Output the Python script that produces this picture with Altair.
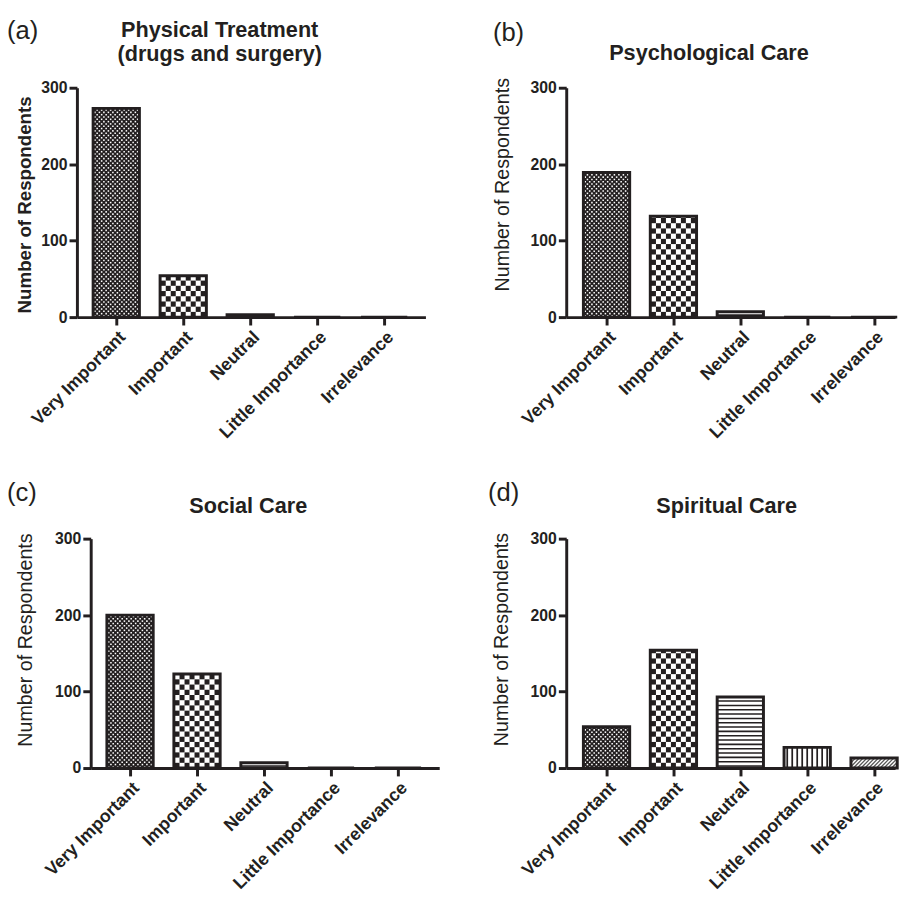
import math
import json
import altair as alt
import pandas as pd

# ---------------- data ----------------
categories = ["Very Important", "Important", "Neutral", "Little Importance", "Irrelevance"]
patterns = ["dots", "checker", "hlines", "vlines", "diag"]
physical = [273, 54, 3, 0, 0]
psychological = [189, 132, 7, 0, 0]
social = [200, 123, 7, 0, 0]
spiritual = [54, 154, 93, 27, 13]
y_ticks = [0, 100, 200, 300]
panel_titles = {
    "a": ["Physical Treatment", "(drugs and surgery)"],
    "b": ["Psychological Care"],
    "c": ["Social Care"],
    "d": ["Spiritual Care"],
}
y_title = "Number of Respondents"

# ---------------- style ----------------
FONT = "Liberation Sans"
INK = "#231f20"
PXX = 70.0            # px per category step
PLOT_H = 233
PXY = PLOT_H / 300.0  # px per respondent
HALF_PX = 23.5        # half bar width in px
BAR_PX = 2 * HALF_PX


def pattern_cells(i, v, pat):
    """Fill texture for bar i (value v), in data units."""
    rects, rules = [], []
    if v <= 0:
        return rects, rules
    W = BAR_PX
    H = v * PXY

    def add(px0, px1, py0, py1, col):
        rects.append(dict(x=i + (px0 - HALF_PX) / PXX, x2=i + (px1 - HALF_PX) / PXX,
                          y=py0 / PXY, y2=py1 / PXY, fill=col))

    if pat == "dots":
        add(0, W, 0, H, INK)
        cs = 2.35
        n = int(round(W / cs))
        cw = W / n
        s = 1.6
        nr = int(math.ceil(H / cs))
        for r in range(nr):
            for c in range(n):
                if (r + c) % 2 == 0:
                    cx = (c + 0.5) * cw
                    cy = (r + 0.5) * cs
                    y0 = cy - s / 2
                    y1 = min(cy + s / 2, H)
                    if y1 > y0:
                        add(cx - s / 2, cx + s / 2, y0, y1, "white")
    elif pat == "checker":
        n = 9
        cw = W / n
        ch = 5.3
        nr = int(math.ceil(H / ch))
        for r in range(nr):
            for c in range(n):
                if (r + c) % 2 == 0:
                    y0 = r * ch
                    y1 = min((r + 1) * ch, H)
                    if y1 > y0:
                        add(c * cw, (c + 1) * cw, y0, y1, INK)
    elif pat == "hlines":
        P = 4.4
        t = 1.6
        r = 0
        while True:
            y0 = 1.2 + r * P
            y1 = y0 + t
            if y1 > H:
                break
            add(0, W, y0, y1, INK)
            r += 1
    elif pat == "vlines":
        n = 9
        cw = W / n
        t = 1.8
        for c in range(n):
            cx = (c + 0.5) * cw
            add(cx - t / 2, cx + t / 2, 0, H, INK)
    elif pat == "diag":
        P = 4.0
        x0 = -H
        while x0 < W:
            sx = max(x0, 0.0)
            ex = min(x0 + H, W)
            if ex > sx:
                rules.append(dict(x=i + (sx - HALF_PX) / PXX, x2=i + (ex - HALF_PX) / PXX,
                                  y=(sx - x0) / PXY, y2=(ex - x0) / PXY))
            x0 += P
    return rects, rules


label_expr = json.dumps(categories) + "[datum.value]"


def text_layer(txt, x, y, size, weight="normal", align="left", opacity=1.0):
    return alt.Chart(pd.DataFrame({"t": [txt]})).mark_text(
        font=FONT, fontSize=size, fontWeight=weight, color=INK, align=align,
        baseline="alphabetic", opacity=opacity
    ).encode(text="t:N", x=alt.value(x), y=alt.value(y))


def make_panel(values, key, letter_pos, title_x, title_ys, ax_bold, ax_fs, atx, aty, dom, width,
               anchors):
    df = pd.DataFrame({"idx": list(range(len(categories))), "cat": categories, "value": values})
    rects, rules = [], []
    for i, (v, p) in enumerate(zip(values, patterns)):
        r1, r2 = pattern_cells(i, v, p)
        rects += r1
        rules += r2

    xs = alt.Scale(domain=list(dom), nice=False, zero=False)
    ys = alt.Scale(domain=[0, 300], nice=False)
    xa = alt.Axis(values=[0, 1, 2, 3, 4], labelExpr=label_expr, title=None, labelAngle=-45,
                  labelAlign="right", labelBaseline="top", labelFont=FONT, labelFontSize=18,
                  labelFontWeight="bold", labelColor=INK, labelPadding=3, labelOverlap=False,
                  labelFlush=False, tickSize=8, tickWidth=3, tickColor=INK, domainColor=INK,
                  domainWidth=3, grid=False)
    ya = alt.Axis(values=y_ticks, title=y_title, titleX=atx, titleY=aty, titleAngle=-90,
                  titleAlign="center", titleBaseline="middle", titleFont=FONT, titleFontSize=ax_fs,
                  titleFontWeight="bold" if ax_bold else "normal", titleColor=INK,
                  labelFont=FONT, labelFontSize=16, labelFontWeight="bold", labelColor=INK,
                  labelPadding=2, tickSize=8, tickWidth=3, tickColor=INK, domainColor=INK,
                  domainWidth=3, grid=False)

    layers = []
    layers.append(
        alt.Chart(pd.DataFrame(rects)).mark_rect(strokeWidth=0).encode(
            x=alt.X("x:Q", scale=xs, axis=xa),
            x2="x2:Q",
            y=alt.Y("y:Q", scale=ys, axis=ya),
            y2="y2:Q",
            fill=alt.Fill("fill:N", scale=None),
        )
    )
    if rules:
        layers.append(
            alt.Chart(pd.DataFrame(rules)).mark_rule(color="#555555", strokeWidth=1.3).encode(
                x=alt.X("x:Q", scale=xs, axis=xa),
                x2="x2:Q",
                y=alt.Y("y:Q", scale=ys, axis=ya),
                y2="y2:Q",
            )
        )
    layers.append(
        alt.Chart(df).mark_bar(size=BAR_PX, fill="white", fillOpacity=0, stroke=INK,
                               strokeWidth=3).encode(
            x=alt.X("idx:Q", scale=xs, axis=xa),
            y=alt.Y("value:Q", scale=ys, axis=ya),
        )
    )
    layers.append(text_layer("(" + key + ")", letter_pos[0], letter_pos[1], 26))
    for line, ty in zip(panel_titles[key], title_ys):
        layers.append(text_layer(line, title_x, ty, 22, "bold", "center"))
    # invisible layout anchors (fix the panel's extent for the grid layout)
    for (ax_, ay_) in anchors:
        layers.append(text_layer(".", ax_, ay_, 1, opacity=0))
    return alt.layer(*layers).properties(width=width, height=PLOT_H)


def spacer():
    return alt.Chart(pd.DataFrame({"t": [""]})).mark_text(opacity=0).encode(
        text="t:N").properties(width=1, height=1)


TOP = -79
pa = make_panel(physical, "a", (-71, -49), 145, [-52, -27], True, 19, -53.5, 118.5,
                (-0.514, 4.543), 354, [(-86, TOP), (360, 383)])
pb = make_panel(psychological, "b", (-74.5, -47), 145, [-28], False, 20, -65, 98,
                (-0.529, 4.24), 334, [(-166.7, TOP), (0, 383)])
pc = make_panel(social, "c", (-85, -38), 160, [-26], False, 20, -66.5, 102.5,
                (-0.514, 4.543), 354, [(-100, TOP), (360, 0)])
pd_ = make_panel(spiritual, "d", (-79.5, -38), 163, [-26], False, 20, -66, 102,
                 (-0.529, 4.24), 334, [(-152.7, TOP)])

row1 = alt.hconcat(spacer(), pa, pb, spacing=-31)
row2 = alt.hconcat(spacer(), pc, pd_, spacing=-31)
chart = (
    alt.vconcat(row1, row2, spacing=-5)
    .properties(padding={"left": -16, "top": -6, "right": 0, "bottom": -4}, background="white")
    .configure_view(strokeWidth=0)
)

chart.save("out.html", embed_options={"renderer": "svg", "actions": False})
